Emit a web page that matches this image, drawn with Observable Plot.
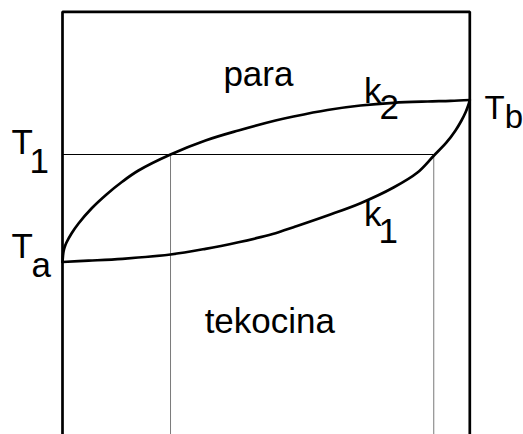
<!DOCTYPE html>
<html>
<head>
<meta charset="utf-8">
<script src="https://cdn.jsdelivr.net/npm/d3@7"></script>
<script src="https://cdn.jsdelivr.net/npm/@observablehq/plot@0.6"></script>
<style>
  html, body { margin: 0; padding: 0; background: #fff; }
  svg { display: block; }
</style>
</head>
<body>
<div id="chart"></div>
<script>
// Composition (0..1) and temperature (arbitrary units 0..100)
const Ta = 40.81;
const Tb = 79.13;
const T1 = 66.24;
const xVapT1 = 0.2652;   // k2 at T1
const xLiqT1 = 0.9115;   // k1 at T1

// k2 – vapour (dew) curve
const vaporX = [0, 0.0012, 0.0025, 0.0049, 0.0098, 0.0221, 0.0393, 0.0712, 0.1080, 0.1473, 0.1866, 0.2652, 0.3511, 0.4321, 0.5230, 0.5672, 0.6506, 0.7317, 0.8127, 0.8961, 0.9526, 1];
const vaporT = [40.81, 42.35, 43.29, 44.24, 45.42, 47.55, 49.92, 53.46, 56.78, 59.85, 62.45, 66.24, 69.55, 71.92, 74.28, 75.23, 76.77, 77.83, 78.47, 78.78, 78.92, 79.13];

// k1 – liquid (bubble) curve
const liquidX = [0, 0.0638, 0.1473, 0.2652, 0.3511, 0.4321, 0.4861, 0.5230, 0.5672, 0.6506, 0.7317, 0.8127, 0.8716, 0.9109, 0.9428, 0.9649, 0.9796, 0.9894, 0.9961, 1];
const liquidT = [40.81, 41.12, 41.57, 42.58, 43.93, 45.49, 46.68, 47.62, 49.04, 51.81, 54.72, 58.43, 61.98, 65.88, 69.08, 71.92, 74.28, 76.18, 77.83, 79.13];

const vapor = vaporX.map((x, i) => ({x, y: vaporT[i]}));
const liquid = liquidX.map((x, i) => ({x, y: liquidT[i]}));
const frame = [{x: 0, y: 0}, {x: 0, y: 100}, {x: 1, y: 100}, {x: 1, y: 0}];

const font = {fontSize: 35, fontFamily: "'Liberation Sans', Arial, sans-serif", fill: "#000", textAnchor: "start", lineAnchor: "bottom"};

const chart = Plot.plot({
  width: 523,
  height: 434,
  marginLeft: 62,
  marginRight: 53.7,
  marginTop: 11.3,
  marginBottom: 0,
  x: {domain: [0, 1], axis: null},
  y: {domain: [0, 100], axis: null},
  style: {background: "#fff", overflow: "visible"},
  marks: [
    // T1 construction lines
    Plot.ruleY([T1], {x1: 0, x2: xLiqT1, stroke: "#000", strokeWidth: 1}),
    Plot.ruleX([xVapT1, xLiqT1], {y1: 0, y2: T1, stroke: "#7a7a7a", strokeWidth: 1}),
    // frame
    Plot.line(frame, {x: "x", y: "y", stroke: "#000", strokeWidth: 2.7, strokeLinejoin: "miter"}),
    // curves
    Plot.line(vapor, {x: "x", y: "y", curve: "catmull-rom", stroke: "#000", strokeWidth: 2.7}),
    Plot.line(liquid, {x: "x", y: "y", curve: "catmull-rom", stroke: "#000", strokeWidth: 2.7}),
    // temperature labels
    Plot.text(["T"], {x: 0, y: T1, dx: -51, dy: -1, ...font}),
    Plot.text(["1"], {x: 0, y: T1, dx: -33, dy: 18, ...font}),
    Plot.text(["T"], {x: 0, y: Ta, dx: -51, dy: -3.5, ...font}),
    Plot.text(["a"], {x: 0, y: Ta, dx: -31, dy: 15.5, ...font}),
    Plot.text(["T"], {x: 1, y: Tb, dx: 14.7, dy: 18.5, ...font, fontSize: 33, className: "tb-label"}),
    // curve labels
    Plot.text(["k"], {x: 0.740, y: 78.54, ...font}),
    Plot.text(["2"], {x: 0.740, y: 78.54, dx: 15.5, dy: 16, ...font}),
    Plot.text(["k"], {x: 0.740, y: 49.44, ...font}),
    Plot.text(["1"], {x: 0.740, y: 49.44, dx: 14.5, dy: 17, ...font}),
    // region labels
    Plot.text(["para"], {x: 0.395, y: 82.56, ...font}),
    Plot.text(["tekocina"], {x: 0.349, y: 24.13, ...font})
  ]
});
// subscript "b" of T_b as a tspan of the same text element
d3.select(chart).select("g.tb-label text")
  .append("tspan").attr("dy", 9).text("b");
document.getElementById("chart").appendChild(chart);
</script>
</body>
</html>
